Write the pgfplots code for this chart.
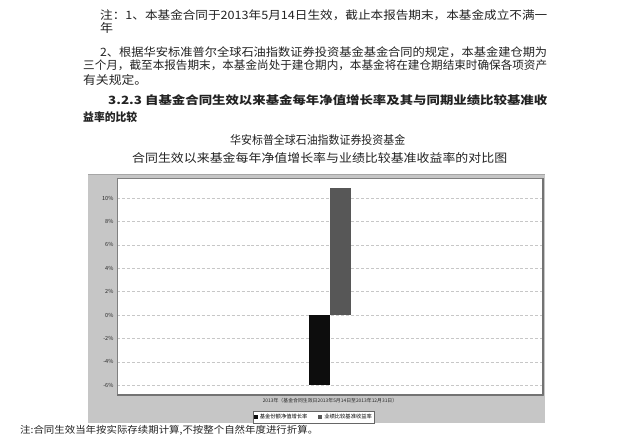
\documentclass[border=0pt]{standalone}
\usepackage{fontspec}
\setmainfont{Noto Sans CJK SC}
\usepackage{graphicx}
\usepackage{pgfplots}
\pgfplotsset{compat=1.18}
\definecolor{framegray}{HTML}{C6C6C6}
\definecolor{barg}{HTML}{575757}
\definecolor{txt}{HTML}{222222}
\newcommand\tline[5]{\node[anchor=west,inner sep=0pt,text=txt] at (#1bp,#2bp) {\resizebox*{#3bp}{#4bp}{#5}};}
\begin{document}
\begin{tikzpicture}
\path[use as bounding box] (0,0) rectangle (629bp,436bp);
% body text
\tline{100}{421}{447}{11}{注：1、本基金合同于2013年5月14日生效，截止本报告期末，本基金成立不满一}
\tline{100}{408}{13}{11}{年}
\tline{100}{384}{447}{11}{2、根据华安标准普尔全球石油指数证券投资基金基金合同的规定，本基金建仓期为}
\tline{83}{371}{464}{11}{三个月，截至本报告期末，本基金尚处于建仓期内，本基金将在建仓期结束时确保各项资产}
\tline{83}{356}{64}{11}{有关规定。}
\tline{108}{336}{439}{11}{\bfseries 3.2.3 自基金合同生效以来基金每年净值增长率及其与同期业绩比较基准收}
\tline{83}{319}{54}{11}{\bfseries 益率的比较}
\tline{230}{296}{175}{11}{华安标普全球石油指数证券投资基金}
\tline{132}{278}{375}{11}{合同生效以来基金每年净值增长率与业绩比较基准收益率的对比图}
\tline{20}{6}{298}{10}{注:合同生效当年按实际存续期计算,不按整个自然年度进行折算。}
% chart frame
\fill[framegray] (88bp,13bp) rectangle (545bp,261bp);
\draw[black!35,line width=1bp] (88bp,261bp) -- (545bp,261bp);
\begin{axis}[
  at={(117bp,41bp)}, anchor=south west,
  width=426bp, height=217bp, scale only axis,
  xmin=-1, xmax=1, ymin=-6.84, ymax=11.71,
  axis background/.style={fill=white},
  axis line style={black!50},
  ytick={-6,-4,...,10},
  yticklabel={\pgfmathprintnumber{\tick}\%},
  /pgf/number format/assume math mode=true,
  yticklabel style={font=\fontsize{5.6}{6}\selectfont, text=black!85},
  xtick={0},
  xticklabels={2013年（基金合同生效日2013年5月14日至2013年12月31日）},
  xticklabel style={font=\fontsize{4.9}{5}\selectfont, text=black!85},
  major tick length=0pt,
  ymajorgrids, grid style={densely dashed, black!22},
  ybar=0pt, bar width=21bp,
  legend style={at={(axis description cs:0.319,-0.074)}, anchor=north west,
    draw=black!60, fill=white, font=\fontsize{5.3}{5.5}\selectfont,
    inner sep=0.8pt, /tikz/every even column/.append style={column sep=9pt}},
  legend columns=2,
  legend image code/.code={\fill[#1] (0bp,-2bp) rectangle (4bp,2bp);},
]
\addplot[fill=black!95, draw=none] coordinates {(0,-6.0)};
\addplot[fill=barg, draw=none] coordinates {(0,10.85)};
\legend{基金份额净值增长率, 业绩比较基准收益率}
\end{axis}
\draw[black!55,line width=1.2bp] (543bp,41bp) -- (543bp,258bp);
\draw[black!55,line width=1.2bp] (117bp,41bp) -- (543bp,41bp);
\end{tikzpicture}
\end{document}
